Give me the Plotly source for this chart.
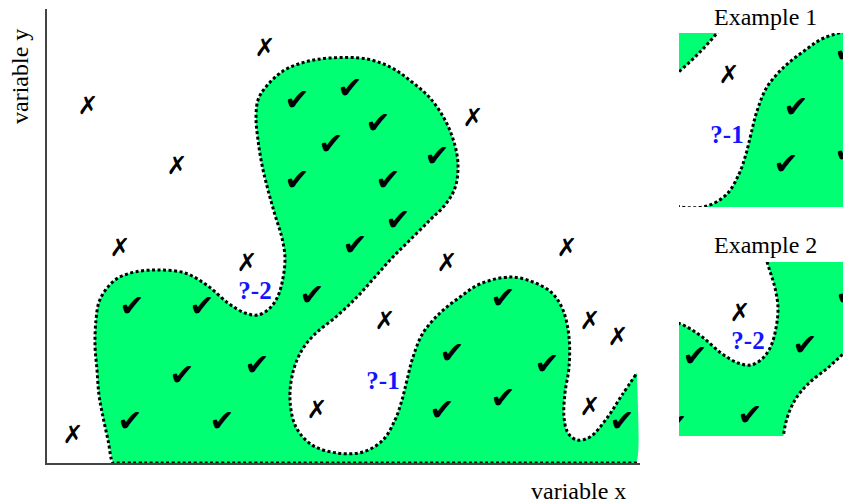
import plotly.graph_objects as go

# Boundary of the "good" region (x right, y down, in px units)
curve_x = [113, 108, 103, 99, 97, 95, 96, 99, 107, 118, 135, 158, 185, 208, 228, 245, 258, 270, 278,
           283, 285, 282, 275, 268, 262, 258, 256, 258, 265, 283, 305, 330, 367, 392, 412, 430, 445,
           454, 458, 455, 445, 430, 410, 392, 375, 357, 337, 315, 302, 293, 290, 296, 312, 337, 363,
           383, 395, 402, 407, 413, 423, 440, 460, 480, 510, 533, 552, 563, 569, 569, 565, 564, 568,
           577, 590, 607, 622, 637]
curve_y = [463, 440, 417, 395, 370, 345, 320, 302, 288, 278, 272, 270, 273, 286, 303, 313, 315, 308, 296,
           278, 258, 238, 215, 190, 165, 140, 118, 100, 88, 71, 62, 58, 59, 68, 82, 98, 120,
           142, 165, 188, 205, 220, 240, 258, 277, 297, 316, 334, 350, 372, 400, 427, 445, 453, 452,
           440, 420, 400, 380, 357, 333, 313, 297, 284, 277, 282, 293, 310, 337, 367, 393, 417, 433,
           440, 437, 418, 395, 373]

# closing edge along the right side and the bottom
edge_x = [637, 637, 634, 116]
edge_y = [376, 460, 463, 463]

# points inside the region
check_x = [297, 350, 378, 331, 437, 297, 388, 398, 355, 312, 132, 202, 182, 257, 130, 222,
           503, 452, 547, 503, 442, 622]
check_y = [102, 90, 125, 146, 158, 182, 182, 222, 247, 297, 308, 308, 377, 367, 423, 423,
           300, 355, 366, 400, 412, 423]

# points outside the region
cross_x = [265, 88, 177, 473, 120, 247, 447, 567, 385, 590, 618, 317, 590, 73]
cross_y = [50, 108, 168, 120, 250, 265, 265, 250, 323, 323, 339, 412, 409, 437]

# query points
query_text = ["?-1", "?-2"]
query_x = [383, 255]
query_y = [383, 293]

GREEN = "#00ff73"
W, H = 843, 504


def in_window(xs, ys, xr, yr, pad=12):
    keep = [i for i in range(len(xs))
            if xr[0] - pad <= xs[i] <= xr[1] + pad and yr[0] - pad <= ys[i] <= yr[1] + pad]
    return [xs[i] for i in keep], [ys[i] for i in keep], keep


# main plot + two zoomed windows (Example 1 around ?-1, Example 2 around ?-2)
panels = [
    ("x", "y", (47, 640), (9, 463)),
    ("x2", "y2", (335, 499), (279, 453)),
    ("x3", "y3", (186, 350), (212, 386)),
]

fig = go.Figure()

for xa, ya, xr, yr in panels:
    fig.add_trace(go.Scatter(
        x=curve_x + edge_x, y=curve_y + edge_y,
        mode="lines", fill="toself", fillcolor=GREEN,
        line=dict(width=0, shape="spline", color=GREEN),
        hoverinfo="skip", showlegend=False, xaxis=xa, yaxis=ya
    ))
    fig.add_trace(go.Scatter(
        x=[edge_x[1], edge_x[3]] + curve_x, y=[edge_y[2], edge_y[3]] + curve_y,
        mode="lines",
        line=dict(width=3, shape="spline", color="black", dash="3px,2.5px"),
        hoverinfo="skip", showlegend=False, xaxis=xa, yaxis=ya
    ))
    cx, cy, _ = in_window(check_x, check_y, xr, yr)
    fig.add_trace(go.Scatter(
        x=cx, y=cy, mode="text", text=["✔"] * len(cx),
        textfont=dict(family="DejaVu Sans", size=30, color="black"),
        hoverinfo="skip", showlegend=False, xaxis=xa, yaxis=ya
    ))
    xx, xy, _ = in_window(cross_x, cross_y, xr, yr)
    fig.add_trace(go.Scatter(
        x=xx, y=xy, mode="text", text=["✗"] * len(xx),
        textfont=dict(family="DejaVu Sans", size=25, color="black", weight="bold"),
        hoverinfo="skip", showlegend=False, xaxis=xa, yaxis=ya
    ))
    qx, qy, qi = in_window(query_x, query_y, xr, yr, pad=0)
    fig.add_trace(go.Scatter(
        x=qx, y=qy, mode="text", text=[query_text[i] for i in qi],
        textfont=dict(family="Liberation Serif", size=25, color="#1414ff", weight="bold"),
        hoverinfo="skip", showlegend=False, xaxis=xa, yaxis=ya
    ))

hidden = dict(showticklabels=False, showgrid=False, zeroline=False, ticks="", fixedrange=True)

fig.update_layout(
    width=W, height=H,
    margin=dict(l=0, r=0, t=0, b=0),
    paper_bgcolor="white", plot_bgcolor="white",
    xaxis=dict(domain=[47 / W, 640 / W], range=[47, 640], showline=True,
               linecolor="#444", linewidth=2, anchor="y", **hidden),
    yaxis=dict(domain=[1 - 463 / H, 1 - 9 / H], range=[463, 9], showline=True,
               linecolor="#444", linewidth=2, anchor="x", **hidden),
    xaxis2=dict(domain=[679 / W, 1], range=[335, 499], anchor="y2", **hidden),
    yaxis2=dict(domain=[1 - 207 / H, 1 - 33 / H], range=[453, 279], anchor="x2", **hidden),
    xaxis3=dict(domain=[679 / W, 1], range=[186, 350], anchor="y3", **hidden),
    yaxis3=dict(domain=[1 - 436 / H, 1 - 262 / H], range=[386, 212], anchor="x3", **hidden),
)

serif = dict(family="Liberation Serif", size=24, color="black")
labels = [
    ("variable x", 578, 491, 0),
    ("variable y", 20, 77, -90),
    ("Example 1", 765, 17, 0),
    ("Example 2", 765, 245, 0),
]
for txt, px, py, ang in labels:
    fig.add_annotation(text=txt, x=px / W, y=1 - py / H, xref="paper", yref="paper",
                       xanchor="center", yanchor="middle",
                       showarrow=False, textangle=ang, font=serif)

# page body margin would shift the figure; remove it
fig.write_html("out.html", config={"displayModeBar": False},
               post_script="document.body.style.margin='0';")
